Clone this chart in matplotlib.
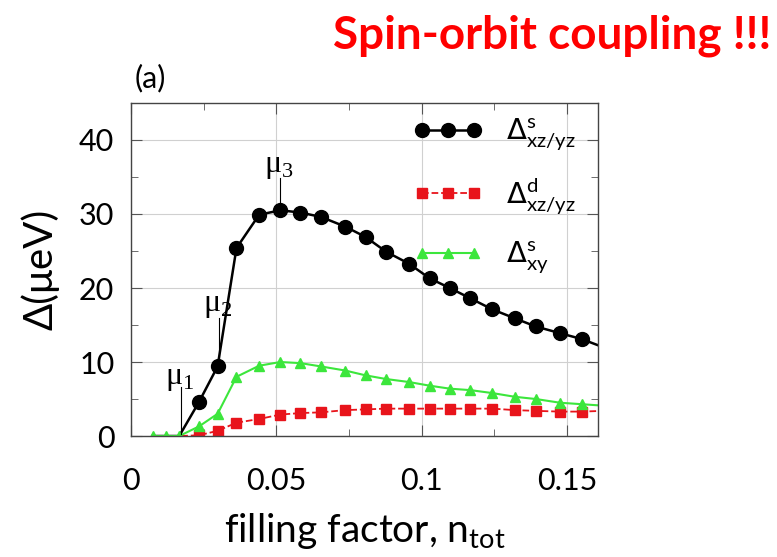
import matplotlib
matplotlib.use("Agg")
import matplotlib.pyplot as plt
from matplotlib.ticker import MultipleLocator

plt.rcParams['font.family'] = ['Lato', 'DejaVu Sans']

# filling factor grid (shared by the three curves)
n_tot = [0.0074, 0.0120, 0.0166, 0.0234, 0.0298, 0.0363, 0.0441, 0.0514,
         0.0583, 0.0654, 0.0737, 0.0807, 0.0878, 0.0956, 0.1028, 0.1097,
         0.1168, 0.1244, 0.1321, 0.1393, 0.1476, 0.1551, 0.1625]
gap_s_xzyz = [0, 0, 0, 4.6, 9.4, 25.4, 29.9, 30.5, 30.2, 29.6, 28.3, 26.9,
              24.9, 23.3, 21.3, 20.0, 18.6, 17.1, 15.9, 14.8, 13.9, 13.1, 12.0]
gap_d_xzyz = [0, 0, 0, 0.1, 0.7, 1.8, 2.3, 2.9, 3.1, 3.2, 3.5, 3.6,
              3.7, 3.7, 3.7, 3.7, 3.7, 3.7, 3.5, 3.4, 3.3, 3.3, 3.4]
gap_s_xy = [0, 0, 0, 1.3, 3.0, 8.0, 9.5, 10.0, 9.85, 9.4, 8.85, 8.2,
            7.7, 7.3, 6.8, 6.4, 6.2, 5.8, 5.3, 5.0, 4.5, 4.3, 4.1]

labels = [r'$\Delta^{\mathregular{s}}_{\mathregular{xz/yz}}$',
          r'$\Delta^{\mathregular{d}}_{\mathregular{xz/yz}}$',
          r'$\Delta^{\mathregular{s}}_{\mathregular{xy}}$']

# chemical potential markers: (label, x, text y, line top, line bottom)
mu_marks = [('1', 0.0171, 7.8, 6.6, 0.3),
            ('2', 0.0303, 17.7, 15.9, 9.6),
            ('3', 0.0513, 36.4, 34.8, 31.1)]

fig = plt.figure(figsize=(7.77, 5.57), dpi=100)
ax = fig.add_axes([0.1686, 0.2172, 0.6010, 0.5979])

ax.plot(n_tot, gap_s_xzyz, '-', color='black', lw=1.8, marker='o', ms=10,
        markevery=slice(3, -1), label=labels[0])
ax.plot(n_tot, gap_d_xzyz, '--', color='#e8141b', lw=1.3, marker='s', ms=6.5,
        markevery=slice(3, -1), label=labels[1])
ax.plot(n_tot, gap_s_xy, '-', color='#3ce63c', lw=1.5, marker='^', ms=6.5,
        markevery=slice(0, -1), label=labels[2])

for sub, x, ty, y1, y0 in mu_marks:
    ax.plot([x, x], [y0, y1], color='black', lw=0.8)
    ax.text(x - 0.0005, ty, 'μ$_{\\mathregular{%s}}$' % sub, fontsize=23,
            ha='center', va='center', family='Liberation Serif')

ax.set_xlim(0, 0.1607)
ax.set_ylim(0, 45)
ax.xaxis.set_major_locator(MultipleLocator(0.05))
ax.xaxis.set_minor_locator(MultipleLocator(0.025))
ax.yaxis.set_major_locator(MultipleLocator(10))
ax.yaxis.set_minor_locator(MultipleLocator(5))
ax.set_xticks([0, 0.05, 0.1, 0.15])
ax.set_xticklabels(['0', '0.05', '0.1', '0.15'])
ax.grid(True, which='major', color='#d0d0d0', lw=0.8)
ax.tick_params(which='both', direction='in', top=True, right=True,
               labelsize=22, color='#555555')
ax.tick_params(axis='x', pad=22)
ax.tick_params(axis='y', pad=12)
ax.tick_params(which='major', length=8)
ax.tick_params(which='minor', length=5)
for s in ax.spines.values():
    s.set_color('#444444')
    s.set_linewidth(1.0)

ax.set_xlabel(r'filling factor, n$_{\mathregular{tot}}$', fontsize=28, labelpad=12)
ax.set_ylabel('Δ(μeV)', fontsize=29, labelpad=14)

leg = ax.legend(loc='upper left', bbox_to_anchor=(0.56, 1.02), frameon=False,
                numpoints=3, handlelength=2.4, labelspacing=0.8,
                fontsize=21, handletextpad=0.8, borderaxespad=0.3)

fig.text(0.1737, 0.86, '(a)', fontsize=22, ha='left', va='center')
fig.text(0.993, 0.935, 'Spin-orbit coupling !!!', fontsize=33, fontweight='bold',
         color='#ff0000', ha='right', va='center')

fig.savefig('out.png', dpi=100)
